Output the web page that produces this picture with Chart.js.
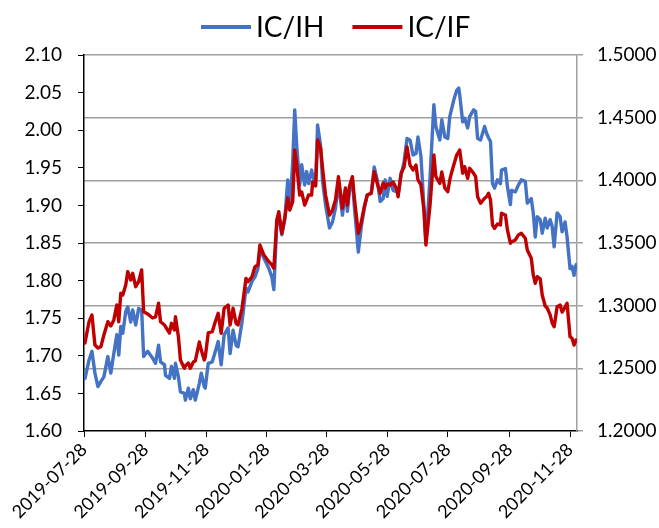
<!DOCTYPE html>
<html>
<head>
<meta charset="utf-8">
<script src="https://cdn.jsdelivr.net/npm/chart.js@4/dist/chart.umd.min.js"></script>
<style>
  html, body { margin: 0; padding: 0; background: #fff; }
  #wrap { width: 659px; height: 528px; }
</style>
</head>
<body>
<div id="wrap"><canvas id="ratioChart"></canvas></div>
<script>
// dates of the samples
const dates = [
  '2019-07-29','2019-08-02','2019-08-05','2019-08-08','2019-08-11','2019-08-14','2019-08-17','2019-08-21','2019-08-24','2019-08-27',
  '2019-08-30','2019-09-01','2019-09-03','2019-09-05','2019-09-08','2019-09-10','2019-09-13','2019-09-15','2019-09-18','2019-09-21',
  '2019-09-24','2019-09-26','2019-09-30','2019-10-05','2019-10-08','2019-10-11','2019-10-13','2019-10-17','2019-10-18','2019-10-22',
  '2019-10-24','2019-10-27','2019-10-28','2019-10-31','2019-11-02','2019-11-06','2019-11-07','2019-11-10','2019-11-12','2019-11-15',
  '2019-11-17','2019-11-21','2019-11-23','2019-11-26','2019-11-27','2019-11-30','2019-12-04','2019-12-07','2019-12-10','2019-12-13',
  '2019-12-16','2019-12-20','2019-12-22','2019-12-25','2019-12-28','2019-12-30','2020-01-03','2020-01-07','2020-01-09','2020-01-13',
  '2020-01-16','2020-01-19','2020-01-21','2020-01-25','2020-01-30','2020-02-02','2020-02-04','2020-02-07','2020-02-09','2020-02-12',
  '2020-02-15','2020-02-18','2020-02-20','2020-02-23','2020-02-25','2020-02-27','2020-03-01','2020-03-03','2020-03-06','2020-03-08',
  '2020-03-10','2020-03-13','2020-03-14','2020-03-17','2020-03-19','2020-03-22','2020-03-24','2020-03-27','2020-03-31','2020-04-03',
  '2020-04-06','2020-04-09','2020-04-13','2020-04-16','2020-04-18','2020-04-20','2020-04-23','2020-04-25','2020-04-29','2020-05-02',
  '2020-05-05','2020-05-08','2020-05-12','2020-05-15','2020-05-18','2020-05-21','2020-05-24','2020-05-26','2020-05-28','2020-05-31',
  '2020-06-03','2020-06-07','2020-06-08','2020-06-11','2020-06-14','2020-06-17','2020-06-20','2020-06-23','2020-06-26','2020-06-28',
  '2020-07-01','2020-07-04','2020-07-06','2020-07-10','2020-07-14','2020-07-16','2020-07-20','2020-07-22','2020-07-25','2020-07-28',
  '2020-07-30','2020-08-01','2020-08-03','2020-08-06','2020-08-08','2020-08-09','2020-08-12','2020-08-14','2020-08-17','2020-08-19',
  '2020-08-23','2020-08-25','2020-08-27','2020-08-30','2020-09-03','2020-09-05','2020-09-07','2020-09-09','2020-09-11','2020-09-13',
  '2020-09-16','2020-09-19','2020-09-20','2020-09-24','2020-09-26','2020-09-29','2020-09-30','2020-10-04','2020-10-07','2020-10-10',
  '2020-10-14','2020-10-16','2020-10-20','2020-10-22','2020-10-24','2020-10-26','2020-10-29','2020-10-31','2020-11-03','2020-11-05',
  '2020-11-08','2020-11-10','2020-11-12','2020-11-15','2020-11-18','2020-11-20','2020-11-23','2020-11-25','2020-11-28','2020-11-30',
  '2020-12-02','2020-12-04'
];

// IC/IH ratio (left axis)
const icIh = [
  1.670,1.694,1.706,1.677,1.659,1.666,1.672,1.699,1.677,1.703,
  1.728,1.701,1.739,1.730,1.759,1.765,1.745,1.761,1.741,1.763,
  1.761,1.699,1.706,1.697,1.690,1.714,1.692,1.688,1.674,1.670,
  1.686,1.670,1.690,1.672,1.652,1.650,1.641,1.657,1.643,1.655,
  1.641,1.663,1.677,1.659,1.657,1.690,1.692,1.705,1.719,1.688,
  1.728,1.737,1.703,1.734,1.714,1.712,1.745,1.790,1.785,1.799,
  1.805,1.816,1.841,1.830,1.816,1.805,1.788,1.876,1.887,1.861,
  1.881,1.934,1.894,1.958,2.027,1.980,1.927,1.954,1.927,1.945,
  1.929,1.947,1.940,1.927,2.007,1.980,1.932,1.901,1.870,1.878,
  1.896,1.929,1.887,1.920,1.892,1.918,1.934,1.898,1.838,1.872,
  1.896,1.914,1.916,1.951,1.934,1.905,1.909,1.934,1.912,1.936,
  1.920,1.918,1.914,1.940,1.958,1.989,1.987,1.967,1.969,1.991,
  1.965,1.898,1.850,1.934,2.034,2.005,1.987,2.014,1.991,1.989,
  2.018,2.029,2.040,2.053,2.056,2.047,2.011,2.016,2.003,2.018,
  2.027,2.025,1.989,1.987,2.005,1.996,1.990,1.985,1.929,1.923,
  1.934,1.929,1.947,1.949,1.925,1.901,1.920,1.918,1.927,1.934,
  1.932,1.903,1.909,1.890,1.858,1.885,1.881,1.863,1.883,1.870,
  1.881,1.872,1.845,1.890,1.885,1.865,1.878,1.858,1.816,1.819,
  1.807,1.821
];

// IC/IF ratio (right axis)
const icIf = [
  1.2702,1.2870,1.2926,1.2686,1.2662,1.2673,1.2766,1.2872,1.2838,1.2886,
  1.3005,1.2872,1.3099,1.3085,1.3165,1.3271,1.3205,1.3258,1.3151,1.3191,
  1.3285,1.2952,1.2934,1.2902,1.2910,1.3019,1.2872,1.2846,1.2832,1.2782,
  1.2859,1.2806,1.2912,1.2752,1.2567,1.2500,1.2519,1.2543,1.2500,1.2551,
  1.2559,1.2710,1.2646,1.2567,1.2590,1.2782,1.2792,1.2870,1.2939,1.2780,
  1.2979,1.3005,1.2846,1.2979,1.2859,1.2846,1.2979,1.3218,1.3191,1.3231,
  1.3311,1.3325,1.3484,1.3404,1.3351,1.3325,1.3298,1.3684,1.3750,1.3577,
  1.3700,1.3859,1.3763,1.3830,1.4242,1.4122,1.3883,1.3907,1.3803,1.3843,
  1.3883,1.3883,1.3987,1.3955,1.4322,1.4258,1.4098,1.3883,1.3723,1.3763,
  1.3843,1.4029,1.3777,1.3939,1.3803,1.3949,1.4029,1.3859,1.3577,1.3668,
  1.3790,1.3883,1.3897,1.4069,1.3976,1.3897,1.3979,1.3939,1.3971,1.3963,
  1.3987,1.3923,1.3869,1.4056,1.4106,1.4266,1.4122,1.4083,1.4122,1.4003,
  1.3963,1.3763,1.3484,1.3790,1.4202,1.4029,1.3976,1.4067,1.3939,1.3909,
  1.4003,1.4067,1.4122,1.4202,1.4226,1.4242,1.4056,1.4109,1.4016,1.4096,
  1.4056,1.4029,1.3869,1.3817,1.3857,1.3869,1.3897,1.3843,1.3644,1.3617,
  1.3652,1.3644,1.3737,1.3723,1.3604,1.3498,1.3508,1.3524,1.3564,1.3577,
  1.3538,1.3444,1.3378,1.3245,1.3178,1.3231,1.3213,1.3085,1.2997,1.2981,
  1.2926,1.2862,1.2832,1.2992,1.3005,1.2949,1.2989,1.3019,1.2752,1.2740,
  1.2686,1.2726
];

// x-axis tick labels
const tickLabels = ['2019-07-28','2019-09-28','2019-11-28','2020-01-28','2020-03-28',
                    '2020-05-28','2020-07-28','2020-09-28','2020-11-28'];

const DAY = 86400000;
const start = Date.parse('2019-07-28');
const toDay = s => (Date.parse(s) - start) / DAY;
const days = dates.map(toDay);
const tickDays = tickLabels.map(toDay);

const FONT = 'Lato';

// legend drawn above the plot as line + label
const topLegend = {
  id: 'topLegend',
  afterDraw(chart) {
    const ctx = chart.ctx;
    ctx.save();
    ctx.font = '28px ' + FONT;
    ctx.textBaseline = 'middle';
    let x = 201;
    const y = 27;
    chart.data.datasets.forEach(ds => {
      ctx.strokeStyle = ds.borderColor;
      ctx.lineWidth = 4;
      ctx.beginPath();
      ctx.moveTo(x, y);
      ctx.lineTo(x + 50, y);
      ctx.stroke();
      ctx.fillStyle = '#000';
      ctx.fillText(ds.label, x + 55, y + 1);
      x += 55 + ctx.measureText(ds.label).width + 28;
    });
    ctx.restore();
  }
};

new Chart(document.getElementById('ratioChart').getContext('2d'), {
  type: 'line',
  data: {
    datasets: [
      {
        label: 'IC/IH',
        data: days.map((d, i) => ({ x: d, y: icIh[i] })),
        borderColor: '#4472C4',
        borderWidth: 3.4,
        borderJoinStyle: 'round',
        borderCapStyle: 'round',
        pointRadius: 0,
        tension: 0,
        yAxisID: 'yL',
        order: 1
      },
      {
        label: 'IC/IF',
        data: days.map((d, i) => ({ x: d, y: icIf[i] })),
        borderColor: '#C00000',
        borderWidth: 3.4,
        borderJoinStyle: 'round',
        borderCapStyle: 'round',
        pointRadius: 0,
        tension: 0,
        yAxisID: 'yR',
        order: 0
      }
    ]
  },
  options: {
    responsive: true,
    maintainAspectRatio: false,
    animation: false,
    layout: { padding: { top: 55, left: 0, right: 0, bottom: 0 } },
    plugins: {
      legend: { display: false },
      tooltip: { enabled: false }
    },
    scales: {
      x: {
        type: 'linear',
        min: 0,
        max: 496,
        afterBuildTicks: scale => { scale.ticks = tickDays.map(v => ({ value: v })); },
        afterFit: scale => { scale.height = 97; scale.paddingLeft = 0; scale.paddingRight = 0; },
        grid: { drawOnChartArea: false, drawTicks: true, tickLength: 6, tickColor: '#000' },
        border: { color: '#000', width: 1.5 },
        ticks: {
          autoSkip: false,
          minRotation: 45,
          maxRotation: 45,
          padding: 2,
          color: '#000',
          font: { family: FONT, size: 18 },
          callback: (value, index) => tickLabels[index]
        }
      },
      yL: {
        position: 'left',
        min: 1.6,
        max: 2.1,
        afterFit: scale => { scale.width = 84; scale.paddingTop = 0; scale.paddingBottom = 0; },
        grid: { drawOnChartArea: false, drawTicks: true, tickLength: 6, tickColor: '#000' },
        border: { color: '#000', width: 1.5 },
        ticks: {
          stepSize: 0.05,
          padding: 16,
          color: '#000',
          font: { family: FONT, size: 19 },
          callback: v => Number(v).toFixed(2)
        }
      },
      yR: {
        position: 'right',
        min: 1.2,
        max: 1.5,
        afterFit: scale => { scale.width = 82; scale.paddingTop = 0; scale.paddingBottom = 0; },
        grid: {
          drawOnChartArea: true,
          drawTicks: true,
          tickLength: 6,
          lineWidth: 1.5,
          color: c => (Math.abs(c.tick.value - 1.2) < 1e-6 ? 'rgba(0,0,0,0)' : '#a0a0a0'),
          tickColor: '#a0a0a0'
        },
        border: { color: '#a0a0a0', width: 1.5 },
        ticks: {
          stepSize: 0.05,
          padding: 14,
          color: '#000',
          font: { family: FONT, size: 19 },
          callback: v => Number(v).toFixed(4)
        }
      }
    }
  },
  plugins: [topLegend]
});
</script>
</body>
</html>
